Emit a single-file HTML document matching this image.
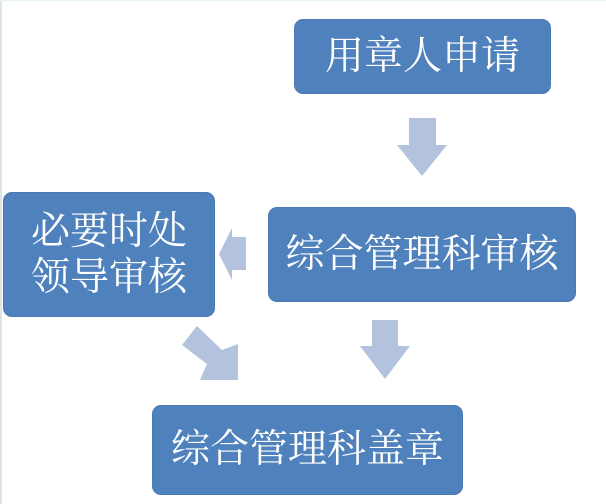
<!DOCTYPE html>
<html><head><meta charset="utf-8"><style>
body{margin:0;width:606px;height:504px;background:#fff;position:relative;overflow:hidden;font-family:"Liberation Serif","Noto Serif CJK SC",serif}
.b{position:absolute;background:#4f81bd;border-radius:9px;color:#fff;display:flex;align-items:center;justify-content:center;text-align:center;font-size:39px;line-height:46px;border:1px solid #4a79b3;box-sizing:border-box;white-space:nowrap}
</style></head><body>
<div style="position:absolute;left:0;top:0;width:2px;height:504px;background:#dde3ea"></div>
<div style="position:absolute;left:0;top:0;width:606px;height:1px;background:#e6f4f4"></div>
<div class="b" style="left:294px;top:19px;width:257px;height:75px">用章人申请</div>
<div class="b" style="left:268px;top:207px;width:308px;height:95px">综合管理科审核</div>
<div class="b" style="left:3px;top:192px;width:212px;height:125px">必要时处<br>领导审核</div>
<div class="b" style="left:152px;top:405px;width:311px;height:90px">综合管理科盖章</div>
<svg width="606" height="504" style="position:absolute;left:0;top:0">
<g fill="#b3c3dd">
<polygon points="409,118 436,118 436,145 447,145 422,176 397,145 409,145"/>
<polygon points="372,320 398,320 398,346 410,346 385,379 360,346 372,346"/>
<polygon points="219,254 232,228 232,237 246,237 246,270 232,270 232,280"/>
<polygon points="182,345 197,326 222,350 238,344 238,380 200,380 207,364"/>
</g></svg>
</body></html>
